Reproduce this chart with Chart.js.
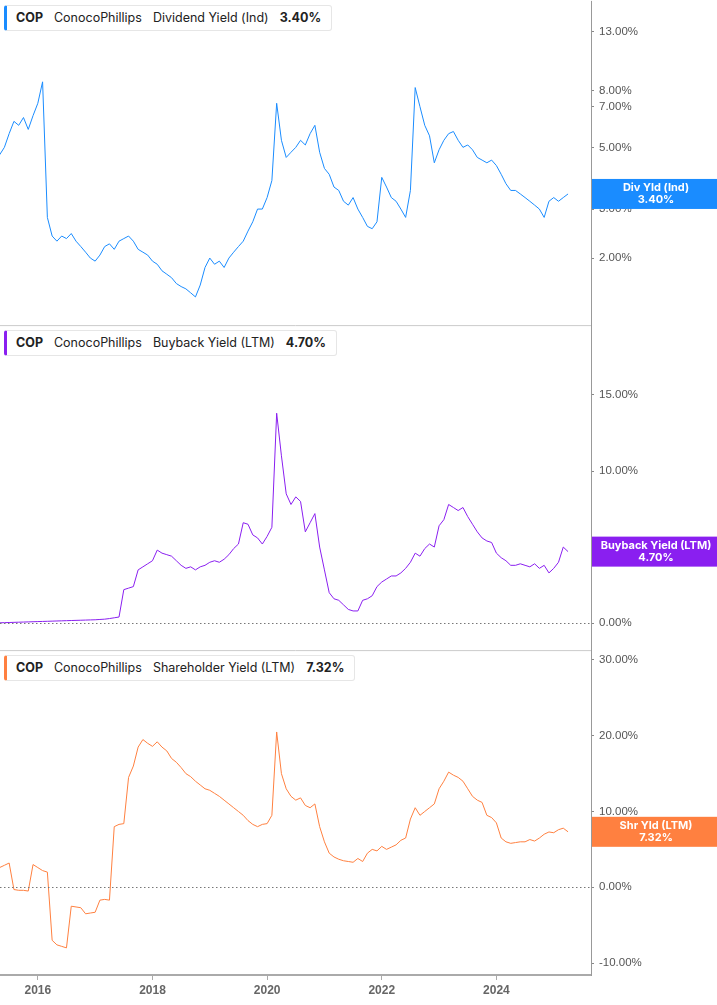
<!DOCTYPE html>
<html><head><meta charset="utf-8">
<script src="https://cdn.jsdelivr.net/npm/chart.js@4"></script>
<style>
body{margin:0;width:717px;height:1005px;background:#fff;position:relative;overflow:hidden;font-family:Inter,"Noto Sans",sans-serif}
canvas{position:absolute;left:0}
.hdr{position:absolute;left:4px;height:24px;line-height:24px;background:#fff;border:1px solid #e6e6e6;border-left:3px solid;border-radius:3px;padding:0 10px 0 9px;font-size:12.5px;color:#222;white-space:nowrap;z-index:2}
.hdr b{font-weight:700}.hdr span{margin-right:11px}
</style></head><body>
<canvas id="c1"></canvas>
<canvas id="c2"></canvas>
<canvas id="c3"></canvas>
<div class="hdr" style="top:5px;border-left-color:#1a8cff"><span><b>COP</b></span><span>ConocoPhillips</span><span>Dividend Yield (Ind)</span><b>3.40%</b></div>
<div class="hdr" style="top:330px;border-left-color:#8a1ff0"><span><b>COP</b></span><span>ConocoPhillips</span><span>Buyback Yield (LTM)</span><b>4.70%</b></div>
<div class="hdr" style="top:655px;border-left-color:#ff8040"><span><b>COP</b></span><span>ConocoPhillips</span><span>Shareholder Yield (LTM)</span><b>7.32%</b></div>
<script>
const startYear = 2015.333; // May 2015, monthly points
const divYield = [4.7,5.0,5.6,6.2,6.0,6.4,5.8,6.5,7.2,8.6,2.8,2.4,2.3,2.4,2.35,2.45,2.3,2.2,2.1,2.0,1.95,2.05,2.2,2.25,2.15,2.3,2.35,2.4,2.3,2.15,2.1,2.05,1.95,1.9,1.8,1.75,1.7,1.62,1.58,1.55,1.5,1.45,1.6,1.85,2.0,1.9,1.95,1.85,2.0,2.1,2.2,2.3,2.5,2.7,3.0,3.0,3.3,3.8,7.2,5.3,4.6,4.8,5.0,5.3,5.1,5.6,6.0,4.8,4.2,4.0,3.6,3.5,3.2,3.1,3.3,3.0,2.8,2.6,2.55,2.7,3.9,3.6,3.3,3.2,3.0,2.8,3.5,8.2,7.0,6.0,5.5,4.4,4.9,5.3,5.6,5.7,5.3,5.0,5.1,4.9,4.6,4.5,4.4,4.5,4.3,4.0,3.7,3.5,3.5,3.4,3.3,3.2,3.1,3.0,2.8,3.2,3.3,3.2,3.3,3.4];
const buybackYield = [0.02,0.03,0.04,0.05,0.06,0.07,0.08,0.09,0.10,0.11,0.12,0.13,0.14,0.15,0.16,0.17,0.18,0.19,0.20,0.21,0.22,0.24,0.26,0.3,0.35,0.4,2.2,2.3,2.4,3.5,3.7,3.9,4.1,4.8,4.6,4.5,4.4,4.1,3.8,3.6,3.7,3.5,3.7,3.8,4.0,4.1,4.0,4.2,4.5,4.9,5.2,6.6,6.5,5.8,5.6,5.2,5.7,6.3,13.8,11.0,8.5,7.8,8.3,8.0,6.0,6.6,7.2,5.0,3.5,2.0,1.6,1.5,1.2,0.9,0.8,0.8,1.5,1.6,1.8,2.4,2.7,2.9,3.1,3.1,3.3,3.6,4.0,4.6,4.4,4.9,5.2,5.0,6.4,6.8,7.8,7.6,7.4,7.6,7.0,6.5,6.0,5.6,5.4,5.3,4.6,4.3,4.1,3.8,3.8,3.9,3.8,3.7,3.9,3.6,3.8,3.3,3.6,4.0,5.0,4.7];
const shareholderYield = [2.6,2.9,3.2,-0.3,-0.4,-0.4,-0.5,3.0,2.6,2.2,2.0,-7.0,-7.6,-7.8,-8.0,-2.5,-2.6,-2.7,-3.5,-3.4,-3.3,-1.7,-1.6,-1.7,8.0,8.3,8.4,14.5,16.0,18.5,19.5,19.0,18.6,19.2,18.5,18.0,17.0,16.5,15.8,15.0,14.6,14.0,13.5,13.0,12.8,12.4,12.0,11.5,11.0,10.5,10.0,9.5,8.8,8.3,8.0,8.3,8.4,9.5,20.5,15.0,13.0,12.0,11.5,11.8,10.8,10.5,11.0,8.0,6.0,4.5,4.0,3.7,3.5,3.4,3.3,3.8,3.4,4.5,5.0,4.8,5.4,5.0,5.3,5.6,6.2,6.5,9.0,10.5,9.5,10.0,10.5,11.0,13.0,14.0,15.2,14.8,14.5,14.0,13.0,12.0,11.5,11.2,9.5,9.2,8.5,6.5,6.0,5.8,5.9,6.0,6.0,6.3,6.1,6.5,7.0,7.3,7.2,7.6,7.8,7.32];
const xTickYears = [2016,2018,2020,2022,2024];
const divTicks = [2,3,5,7,8,13];
const buyTicks = [0,5,10,15];
const shTicks = [-10,0,10,20,30];
const labels = [["Div Yld (Ind)","3.40%"],["Buyback Yield (LTM)","4.70%"],["Shr Yld (LTM)","7.32%"]];

const pts = arr => arr.map((v,i)=>({x:startYear+i/12,y:v}));
const X0=2015.34, X1=2025.65;

function panel(id,top,h,data,color,ycfg,ticks,lab,showX){
  const cv=document.getElementById(id);
  cv.width=717;cv.height=h;cv.style.width='717px';cv.style.height=h+'px';cv.style.top=top+'px';
  const plug={id:'p'+id,
    afterDraw(ch){
      const c=ch.ctx,a=ch.chartArea,ys=ch.scales.y;
      c.save();
      c.clearRect(0,0,717,a.top);
      if(!showX)c.clearRect(0,a.bottom,717,h-a.bottom+1);
      c.strokeStyle='#999';c.lineWidth=1;c.beginPath();c.moveTo(a.right+0.5,a.top);c.lineTo(a.right+0.5,a.bottom);c.stroke();
      if(ys.min<0){const y0=Math.round(ys.getPixelForValue(0))+0.5;
        c.strokeStyle='#777';c.setLineDash([1.5,2.5]);c.lineWidth=1;
        c.beginPath();c.moveTo(0,y0);c.lineTo(a.right,y0);c.stroke();c.setLineDash([]);}
      if(!showX){c.strokeStyle='#ccc';c.lineWidth=1;c.beginPath();c.moveTo(0,a.bottom-0.5);c.lineTo(a.right,a.bottom-0.5);c.stroke();}
      const last=data[data.length-1];const yv=ys.getPixelForValue(last);
      c.fillStyle=color;c.fillRect(a.right+1,yv-15,717-a.right,30);
      c.fillStyle='#fff';c.font='bold 11px Inter, sans-serif';c.textAlign='center';c.textBaseline='middle';
      const cx=(a.right+717)/2+2;
      c.fillText(lab[0],cx,yv-6);c.fillText(lab[1],cx,yv+6);
      c.restore();
    }};
  return new Chart(cv,{type:'line',
    data:{datasets:[{data:pts(data),borderColor:color,borderWidth:1,pointRadius:0,tension:0,fill:false}]},
    options:{responsive:false,animation:false,events:[],
      layout:{padding:{top:11,bottom:0,left:0,right:0}},
      plugins:{legend:{display:false},tooltip:{enabled:false}},
      scales:{
        x:{type:'linear',min:X0,max:X1,display:showX,
          afterBuildTicks:s=>{s.ticks=xTickYears.map(v=>({value:v}));},
          afterFit:s=>{if(showX)s.height=30;},
          grid:{display:true,drawOnChartArea:false,tickLength:5,color:'#aaa'},
          border:{color:'#aaa',width:2},
          ticks:{color:'#666',font:{size:12,weight:'bold'},padding:3,maxRotation:0,callback:v=>String(v)}},
        y:Object.assign({position:'right',
          afterBuildTicks:s=>{s.ticks=ticks.map(v=>({value:v}));},
          afterFit:s=>{s.width=126;},
          grid:{display:true,drawOnChartArea:false,tickLength:3,color:'#888'},
          border:{color:'#999',width:1},
          ticks:{color:'#555',font:{size:11.5},padding:5,callback:v=>v.toFixed(2)+'%'}},ycfg)
      }},
    plugins:[plug]});
}
panel('c1',-11,349,divYield,'#1a8cff',{type:'logarithmic',min:1.139,max:16.8},divTicks,labels[0],false);
panel('c2',314,349,buybackYield,'#8a1ff0',{type:'linear',min:-1.84,max:19.54},buyTicks,labels[1],false);
panel('c3',639,366,shareholderYield,'#ff8040',{type:'linear',min:-11.58,max:31.2},shTicks,labels[2],true);
</script></body></html>
